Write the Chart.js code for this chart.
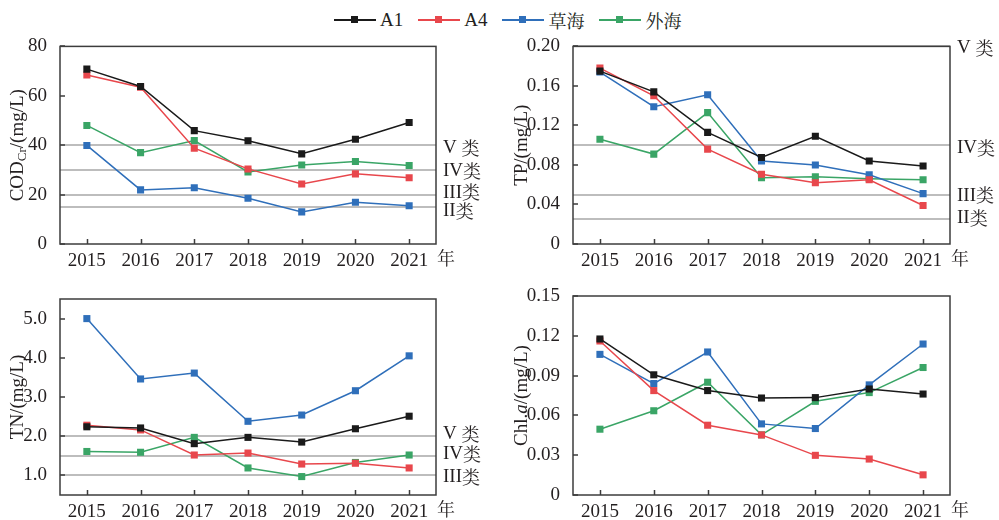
<!DOCTYPE html>
<html>
<head>
<meta charset="utf-8">
<script src="https://cdn.jsdelivr.net/npm/chart.js@4.4.1/dist/chart.umd.min.js"></script>
<style>
  body { margin: 0; background: #fff; width: 999px; height: 520px; position: relative; overflow: hidden; }
  canvas { position: absolute; }
  #legend { position: absolute; left: 334px; top: 7px; display: flex; align-items: center;
            font: 19px "Liberation Serif", serif; color: #231f20; }
  .item { display: flex; align-items: center; margin-right: 15px; }
  .mark { position: relative; width: 42px; height: 1.5px; margin-right: 4px; }
  .mark i { position: absolute; left: 17px; top: -3px; width: 7px; height: 7px; }
  .cjk { font-family: "Noto Serif CJK SC", "Noto Sans CJK SC"; font-size: 18px; }
</style>
</head>
<body>
<div id="legend"></div>
<canvas id="cod" width="499" height="245" style="left:0;top:30px"></canvas>
<canvas id="tp" width="499" height="245" style="left:500px;top:30px"></canvas>
<canvas id="tn" width="499" height="245" style="left:0;top:275px"></canvas>
<canvas id="chl" width="499" height="245" style="left:500px;top:275px"></canvas>
<script>
const years = ['2015', '2016', '2017', '2018', '2019', '2020', '2021'];
const seriesNames = ['A1', 'A4', '草海', '外海'];
const seriesColors = ['#1a1a1a', '#e8474c', '#2f6fba', '#3aa566'];

// COD_Cr, mg/L
const codA1 = [70.8, 63.8, 45.9, 41.8, 36.5, 42.4, 49.2];
const codA4 = [68.4, 63.5, 38.8, 30.4, 24.3, 28.4, 26.8];
const codCaohai = [39.9, 21.9, 22.8, 18.5, 13.0, 16.9, 15.5];
const codWaihai = [48.0, 37.0, 41.9, 29.2, 32.0, 33.4, 31.8];
const codTicks = [0, 20, 40, 60, 80];
const codTickLabels = ['0', '20', '40', '60', '80'];
const codLimits = [40, 30, 20, 15];
const codLimitLabels = ['V 类', 'IV类', 'III类', 'II类'];

// TP, mg/L
const tpA1 = [0.175, 0.154, 0.113, 0.0875, 0.109, 0.084, 0.079];
const tpA4 = [0.178, 0.150, 0.096, 0.0706, 0.062, 0.065, 0.039];
const tpCaohai = [0.174, 0.139, 0.151, 0.084, 0.080, 0.070, 0.051];
const tpWaihai = [0.106, 0.091, 0.133, 0.067, 0.068, 0.066, 0.065];
const tpTicks = [0, 0.04, 0.08, 0.12, 0.16, 0.20];
const tpTickLabels = ['0', '0.04', '0.08', '0.12', '0.16', '0.20'];
const tpLimits = [0.2, 0.1, 0.05, 0.025];
const tpLimitLabels = ['V 类', 'IV类', 'III类', 'II类'];

// TN, mg/L
const tnA1 = [2.24, 2.21, 1.81, 1.97, 1.85, 2.19, 2.51];
const tnA4 = [2.28, 2.16, 1.52, 1.57, 1.29, 1.31, 1.19];
const tnCaohai = [5.00, 3.46, 3.61, 2.38, 2.54, 3.16, 4.05];
const tnWaihai = [1.61, 1.59, 1.97, 1.19, 0.97, 1.33, 1.52];
const tnTicks = [1, 2, 3, 4, 5];
const tnTickLabels = ['1.0', '2.0', '3.0', '4.0', '5.0'];
const tnLimits = [2.0, 1.5, 1.0];
const tnLimitLabels = ['V 类', 'IV类', 'III类'];

// Chl.a, mg/L
const chlA1 = [0.1176, 0.0906, 0.0787, 0.0731, 0.0734, 0.0799, 0.0761];
const chlA4 = [0.1161, 0.0787, 0.0526, 0.0453, 0.0299, 0.0271, 0.0152];
const chlCaohai = [0.106, 0.084, 0.1078, 0.0536, 0.0501, 0.083, 0.1138];
const chlWaihai = [0.0496, 0.0635, 0.085, 0.0453, 0.0706, 0.0772, 0.0961];
const chlTicks = [0, 0.03, 0.06, 0.09, 0.12, 0.15];
const chlTickLabels = ['0', '0.03', '0.06', '0.09', '0.12', '0.15'];

const SERIF = '"Liberation Serif", serif';
const CJK = '"Noto Serif CJK SC", "Noto Sans CJK SC"';
const TEXT = '#231f20';

// html legend
const legend = document.getElementById('legend');
seriesNames.forEach((name, i) => {
  const item = document.createElement('div');
  item.className = 'item';
  const cls = /^[A-Za-z0-9]+$/.test(name) ? '' : ' class="cjk"';
  item.innerHTML = '<span class="mark" style="background:' + seriesColors[i] + '"><i style="background:' +
    seriesColors[i] + '"></i></span><span' + cls + '>' + name + '</span>';
  legend.appendChild(item);
});

function drawRichText(ctx, segs, x, y) {
  let total = 0;
  segs.forEach(s => {
    ctx.font = s.font;
    total += ctx.measureText(s.t).width;
  });
  let cx = x - total / 2;
  segs.forEach(s => {
    ctx.font = s.font;
    ctx.fillText(s.t, cx, y + (s.dy || 0));
    cx += ctx.measureText(s.t).width;
  });
}

const panelDecor = {
  id: 'panelDecor',
  beforeDatasetsDraw(chart, args, opts) {
    const { ctx, chartArea: a, scales: { y } } = chart;
    ctx.save();
    ctx.strokeStyle = '#bdbdbd';
    ctx.lineWidth = 2;
    (opts.limits || []).forEach(v => {
      const py = Math.round(y.getPixelForValue(v));
      ctx.beginPath();
      ctx.moveTo(a.left, py);
      ctx.lineTo(a.right, py);
      ctx.stroke();
    });
    ctx.restore();
  },
  afterDraw(chart, args, opts) {
    const { ctx, chartArea: a, scales: { x, y } } = chart;
    ctx.save();
    // frame + inward ticks
    ctx.strokeStyle = '#3c3c3c';
    ctx.lineWidth = 1.5;
    ctx.strokeRect(a.left, a.top, a.right - a.left, a.bottom - a.top);
    ctx.beginPath();
    y.ticks.forEach(t => {
      const py = Math.round(y.getPixelForValue(t.value));
      ctx.moveTo(a.left, py);
      ctx.lineTo(a.left + 5, py);
    });
    years.forEach((yr, i) => {
      const px = Math.round(x.getPixelForValue(i)) + 0.5;
      ctx.moveTo(px, a.bottom);
      ctx.lineTo(px, a.bottom - 5);
    });
    ctx.stroke();

    // class labels on the right
    ctx.fillStyle = TEXT;
    ctx.textBaseline = 'middle';
    ctx.textAlign = 'left';
    (opts.limitLabels || []).forEach((lab, i) => {
      const py = y.getPixelForValue(opts.limits[i]) + (opts.labelShift[i] || 0);
      const m = lab.match(/^([A-Z ]+)(类)$/);
      ctx.font = '19px ' + SERIF;
      ctx.fillText(m[1], a.right + 7, py);
      const w = ctx.measureText(m[1]).width;
      ctx.font = '18px ' + CJK;
      ctx.fillText(m[2], a.right + 7 + w, py);
    });

    // year unit
    ctx.font = '18px ' + CJK;
    ctx.fillText('年', a.right + 1, a.bottom + 14);

    // y title
    ctx.translate(opts.titleX, (a.top + a.bottom) / 2);
    ctx.rotate(-Math.PI / 2);
    ctx.textAlign = 'left';
    drawRichText(ctx, opts.title, 0, 0);
    ctx.restore();
  }
};

function makePanel(id, data, ticks, tickLabels, box, decor) {
  const canvas = document.getElementById(id);
  const W = canvas.width, H = canvas.height;
  const xh = 24;
  return new Chart(canvas, {
    type: 'line',
    data: {
      labels: years,
      datasets: data.map((vals, i) => ({
        label: seriesNames[i],
        data: vals,
        borderColor: seriesColors[i],
        backgroundColor: seriesColors[i],
        borderWidth: 1.5,
        pointStyle: 'rect',
        pointRadius: 5,
        pointBorderWidth: 0,
        pointBackgroundColor: seriesColors[i],
        tension: 0
      }))
    },
    options: {
      responsive: false,
      animation: false,
      devicePixelRatio: 1,
      layout: { padding: { left: 0, top: box.t, right: W - box.r, bottom: H - box.b - xh } },
      plugins: { legend: { display: false }, tooltip: { enabled: false }, panelDecor: decor },
      scales: {
        x: {
          offset: true,
          grid: { display: false },
          border: { display: false },
          ticks: { color: TEXT, font: { family: SERIF, size: 19 }, padding: -2, autoSkip: false, maxRotation: 0 },
          afterFit(s) { s.height = xh; }
        },
        y: {
          min: box.min,
          max: box.max,
          grid: { display: false },
          border: { display: false },
          afterBuildTicks(s) { s.ticks = ticks.map(v => ({ value: v })); },
          ticks: {
            color: TEXT,
            font: { family: SERIF, size: 19 },
            padding: 5,
            callback: (v, i) => tickLabels[i]
          },
          afterFit(s) { s.width = box.l; }
        }
      }
    },
    plugins: [panelDecor]
  });
}

makePanel('cod', [codA1, codA4, codCaohai, codWaihai], codTicks, codTickLabels,
  { l: 60, r: 436, t: 16, b: 214, min: 0, max: 80 },
  { limits: codLimits, limitLabels: codLimitLabels, labelShift: [3, 1, -2, 4], titleX: 18,
    title: [{ t: 'COD', font: '19px ' + SERIF }, { t: 'Cr', font: '13px ' + SERIF, dy: 5 },
            { t: '/(mg/L)', font: '19px ' + SERIF }] });

makePanel('tp', [tpA1, tpA4, tpCaohai, tpWaihai], tpTicks, tpTickLabels,
  { l: 73, r: 450, t: 16, b: 214, min: 0, max: 0.2 },
  { limits: tpLimits, limitLabels: tpLimitLabels, labelShift: [2, 3, 1, -1], titleX: 22,
    title: [{ t: 'TP/(mg/L)', font: '19px ' + SERIF }] });

makePanel('tn', [tnA1, tnA4, tnCaohai, tnWaihai], tnTicks, tnTickLabels,
  { l: 60, r: 436, t: 24, b: 220, min: 0.5, max: 5.5 },
  { limits: tnLimits, limitLabels: tnLimitLabels, labelShift: [-2, -2, 2], titleX: 18,
    title: [{ t: 'TN/(mg/L)', font: '19px ' + SERIF }] });

makePanel('chl', [chlA1, chlA4, chlCaohai, chlWaihai], chlTicks, chlTickLabels,
  { l: 73, r: 450, t: 21, b: 220, min: 0, max: 0.15 },
  { limits: [], limitLabels: [], labelShift: [], titleX: 22,
    title: [{ t: 'Chl.', font: '19px ' + SERIF }, { t: 'a', font: 'italic 19px ' + SERIF },
            { t: '/(mg/L)', font: '19px ' + SERIF }] });
</script>
</body>
</html>
